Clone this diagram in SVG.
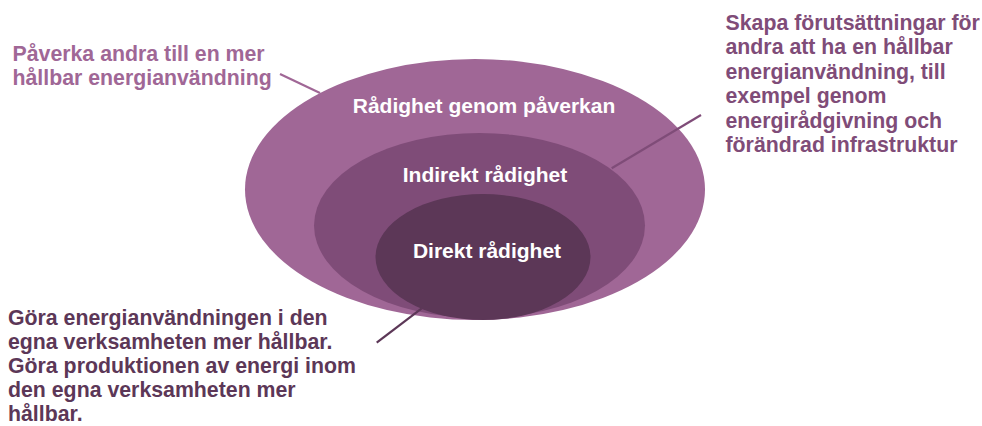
<svg xmlns="http://www.w3.org/2000/svg" width="982" height="426" viewBox="0 0 982 426">
<style>
text{font-family:"Liberation Sans",Arial,sans-serif;font-weight:bold;font-size:21.3px}
.in{fill:#ffffff;text-anchor:middle;font-size:21px}
.c1{fill:#A06796}.c2{fill:#7F4C78}.c3{fill:#5C3757}
.l{stroke-width:2.2;fill:none}
</style>
<rect width="982" height="426" fill="#ffffff"/>
<g id="outer">
<ellipse cx="475" cy="189.5" rx="230" ry="130.5" fill="#A06796"/>
<text class="in" x="484" y="112.5">Rådighet genom påverkan</text>
</g>
<g id="middle">
<ellipse cx="479.5" cy="225.5" rx="165.5" ry="92.5" fill="#7F4C78"/>
<text class="in" x="485" y="181.5">Indirekt rådighet</text>
</g>
<g id="inner">
<ellipse cx="483" cy="257" rx="107.5" ry="63" fill="#5C3757"/>
<text class="in" x="487" y="258">Direkt rådighet</text>
</g>
<g id="connectors">
<line class="l" x1="280" y1="74" x2="320" y2="93" stroke="#A06796"/>
<line class="l" x1="701" y1="115" x2="611.7" y2="168.3" stroke="#7F4C78"/>
<line class="l" x1="376.7" y1="342.7" x2="421.7" y2="308.3" stroke="#5C3757"/>
</g>
<g id="label-left">
<text class="c1" x="12.5" y="61">Påverka andra till en mer</text>
<text class="c1" x="12.5" y="85">hållbar energianvändning</text>
</g>
<g id="label-right">
<text class="c2" x="725.5" y="29.5">Skapa förutsättningar för</text>
<text class="c2" x="725.5" y="54">andra att ha en hållbar</text>
<text class="c2" x="725.5" y="78.5">energianvändning, till</text>
<text class="c2" x="725.5" y="103">exempel genom</text>
<text class="c2" x="725.5" y="127.5">energirådgivning och</text>
<text class="c2" x="725.5" y="152">förändrad infrastruktur</text>
</g>
<g id="label-bottom">
<text class="c3" x="8" y="325">Göra energianvändningen i den</text>
<text class="c3" x="8" y="349">egna verksamheten mer hållbar.</text>
<text class="c3" x="8" y="373">Göra produktionen av energi inom</text>
<text class="c3" x="8" y="397">den egna verksamheten mer</text>
<text class="c3" x="8" y="421">hållbar.</text>
</g>
</svg>
